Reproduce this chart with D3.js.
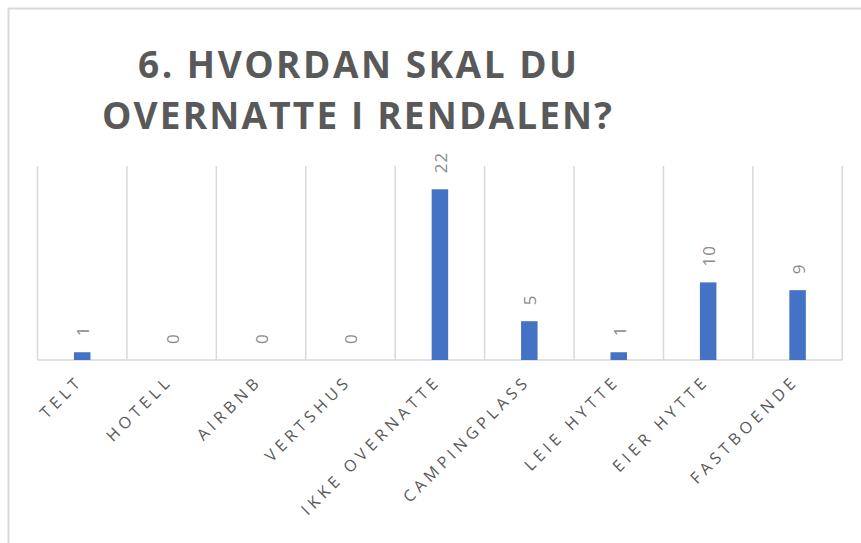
<!DOCTYPE html>
<html>
<head>
<meta charset="utf-8">
<script src="https://cdn.jsdelivr.net/npm/d3@7"></script>
<style>
  body { margin: 0; background: #fff; }
  svg { display: block; }
</style>
</head>
<body>
<div id="chart"></div>
<script>
const categories = ["TELT", "HOTELL", "AIRBNB", "VERTSHUS", "IKKE OVERNATTE",
  "CAMPINGPLASS", "LEIE HYTTE", "EIER HYTTE", "FASTBOENDE"];
const values = [1, 0, 0, 0, 22, 5, 1, 10, 9];
const titleLines = ["6. HVORDAN SKAL DU", "OVERNATTE I RENDALEN?"];

const W = 861, H = 543;
const PLOT = { LEFT: 37.5, RIGHT: 842.3, TOP: 166, BOTTOM: 360 };

const svg = d3.select("#chart")
  .append("svg")
  .attr("width", W)
  .attr("height", H);

// chart frame (only top and left edges show in the picture)
svg.append("line")
  .attr("x1", 8).attr("x2", W).attr("y1", 8.5).attr("y2", 8.5)
  .attr("stroke", "#d9d9d9").attr("stroke-width", 2);
svg.append("line")
  .attr("x1", 8.5).attr("x2", 8.5).attr("y1", 8).attr("y2", H)
  .attr("stroke", "#d9d9d9").attr("stroke-width", 2);

// title
const titleX = [138, 102], titleW = [439, 510], titleY = [78, 129];
svg.selectAll("text.title")
  .data(titleLines)
  .enter()
  .append("text")
  .attr("class", "title")
  .attr("x", (d, i) => titleX[i])
  .attr("y", (d, i) => titleY[i])
  .attr("textLength", (d, i) => titleW[i])
  .attr("lengthAdjust", "spacing")
  .style("font-family", "'Open Sans', sans-serif")
  .style("font-weight", "bold")
  .style("font-size", "37px")
  .style("fill", "#595959")
  .text(d => d);

const x = d3.scaleBand()
  .domain(categories)
  .range([PLOT.LEFT, PLOT.RIGHT])
  .paddingInner(0)
  .paddingOuter(0);

const y = d3.scaleLinear()
  .domain([0, 25])
  .range([PLOT.BOTTOM, PLOT.TOP]);

// vertical gridlines between categories
const edges = categories.map(c => x(c)).concat([PLOT.RIGHT]);
svg.selectAll("line.grid")
  .data(edges)
  .enter()
  .append("line")
  .attr("class", "grid")
  .attr("x1", d => d).attr("x2", d => d)
  .attr("y1", y(25)).attr("y2", y(0))
  .attr("stroke", "#d9d9d9")
  .attr("stroke-width", 1.5);

// baseline
svg.append("line")
  .attr("x1", PLOT.LEFT).attr("x2", PLOT.RIGHT)
  .attr("y1", y(0)).attr("y2", y(0))
  .attr("stroke", "#d9d9d9")
  .attr("stroke-width", 1.5);

const barW = 16.5;
const data = categories.map((c, i) => ({ cat: c, val: values[i] }));

svg.selectAll("rect.bar")
  .data(data)
  .enter()
  .append("rect")
  .attr("class", "bar")
  .attr("x", d => x(d.cat) + x.bandwidth() / 2 - barW / 2)
  .attr("y", d => y(d.val))
  .attr("width", barW)
  .attr("height", d => y(0) - y(d.val))
  .attr("fill", "#4472c4");

// value labels, rotated
svg.selectAll("text.val")
  .data(data)
  .enter()
  .append("text")
  .attr("class", "val")
  .attr("transform", d =>
    `translate(${x(d.cat) + x.bandwidth() / 2 + 1},${y(d.val) - 16}) rotate(-90)`)
  .attr("dy", "0.35em")
  .attr("text-anchor", "start")
  .style("font-family", "'Open Sans', sans-serif")
  .style("font-size", "17px")
  .style("letter-spacing", "1px")
  .style("fill", "#8c8c8c")
  .text(d => d.val);

// category labels at -45 degrees
svg.selectAll("text.cat")
  .data(categories)
  .enter()
  .append("text")
  .attr("class", "cat")
  .attr("transform", d =>
    `translate(${x(d) + x.bandwidth() / 2 + 2},${y(0) + 22}) rotate(-45)`)
  .attr("text-anchor", "end")
  .style("font-family", "'Open Sans', sans-serif")
  .style("font-size", "16px")
  .style("letter-spacing", "4.5px")
  .style("fill", "#595959")
  .text(d => d);
</script>
</body>
</html>
